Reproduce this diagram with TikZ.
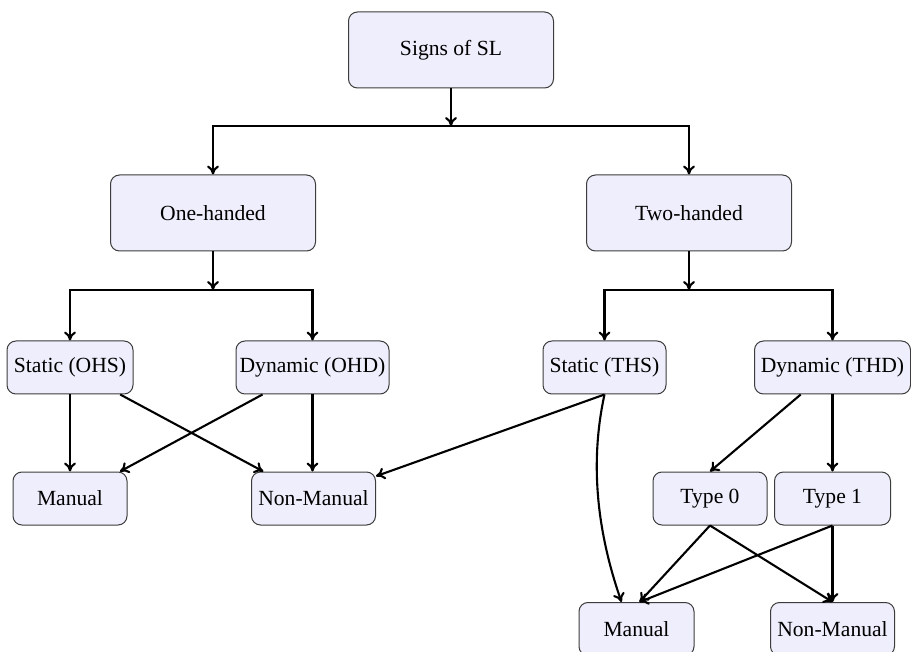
\documentclass[tikz,border=0pt]{standalone}
\usepackage{fontspec}
\setmainfont{Liberation Serif}
\usetikzlibrary{arrows.meta}
\definecolor{boxfill}{RGB}{238,238,252}
\definecolor{boxline}{RGB}{60,60,60}
\begin{document}
\begin{tikzpicture}[x=0.5pt,y=-0.5pt,
  box/.style={draw=boxline,line width=0.5pt,fill=boxfill,rounded corners=4.5pt,
    inner xsep=1.5pt,inner ysep=0pt,font=\fontsize{10.8}{12}\selectfont,align=center},
  bigbox/.style={box,minimum width=102.5pt,minimum height=38pt},
  smallbox/.style={box,minimum height=26.5pt},
  conn/.style={line width=1.05pt,-{To[length=4.5pt,width=6pt]}}]
\useasboundingbox (0,0) rectangle (911,652);
\node[bigbox] (root) at (451,50) {Signs of SL};
\node[bigbox] (one) at (213,213) {One-handed};
\node[bigbox] (two) at (689,213) {Two-handed};
\node[smallbox,minimum width=63pt] (ohs) at (70,367.5) {Static (OHS)};
\node[smallbox,minimum width=76.5pt] (ohd) at (312.5,367.5) {Dynamic (OHD)};
\node[smallbox,minimum width=61.5pt] (ths) at (604.5,367.5) {Static (THS)};
\node[smallbox,minimum width=78pt] (thd) at (832.5,367.5) {Dynamic (THD)};
\node[smallbox,minimum width=57pt] (man1) at (70,498.5) {Manual};
\node[smallbox,minimum width=62pt] (nm1) at (313.5,498.5) {Non-Manual};
\node[smallbox,minimum width=57pt] (t0) at (710,498.5) {Type 0};
\node[smallbox,minimum width=58pt] (t1) at (832.5,498.5) {Type 1};
\node[smallbox,minimum width=57.5pt] (man2) at (636.5,629) {Manual};
\node[smallbox,minimum width=62pt] (nm2) at (832.5,629) {Non-Manual};
\coordinate (j1) at (451,126);
\coordinate (j2) at (213,290);
\coordinate (j3) at (689,290);
\draw[conn] (root) -- (j1);
\draw[conn] (j1) -| (one);
\draw[conn] (j1) -| (two);
\draw[conn] (one) -- (j2);
\draw[conn] (j2) -| (ohs);
\draw[conn] (j2) -| (ohd.north);
\draw[conn] (two) -- (j3);
\draw[conn] (j3) -| (ths);
\draw[conn] (j3) -| (thd);
\draw[conn] (ohs) -- (man1);
\draw[conn] (ohs) -- (nm1);
\draw[conn] (ohd) -- (man1);
\draw[conn] (ohd.south) -- (ohd.south |- nm1.north);
\draw[conn] (ths.south) -- (nm1);
\draw[conn] (ths.south) .. controls (588,470) and (600,540) .. ([xshift=-7.5pt]man2.north);
\draw[conn] (thd) -- (t0.north);
\draw[conn] (thd) -- (t1);
\draw[conn] (t0.south) -- ([xshift=1.5pt]man2.north);
\draw[conn] (t0.south) -- (nm2.north);
\draw[conn] (t1.south) -- ([xshift=1.5pt]man2.north);
\draw[conn] (t1.south) -- (nm2.north);
\end{tikzpicture}
\end{document}
